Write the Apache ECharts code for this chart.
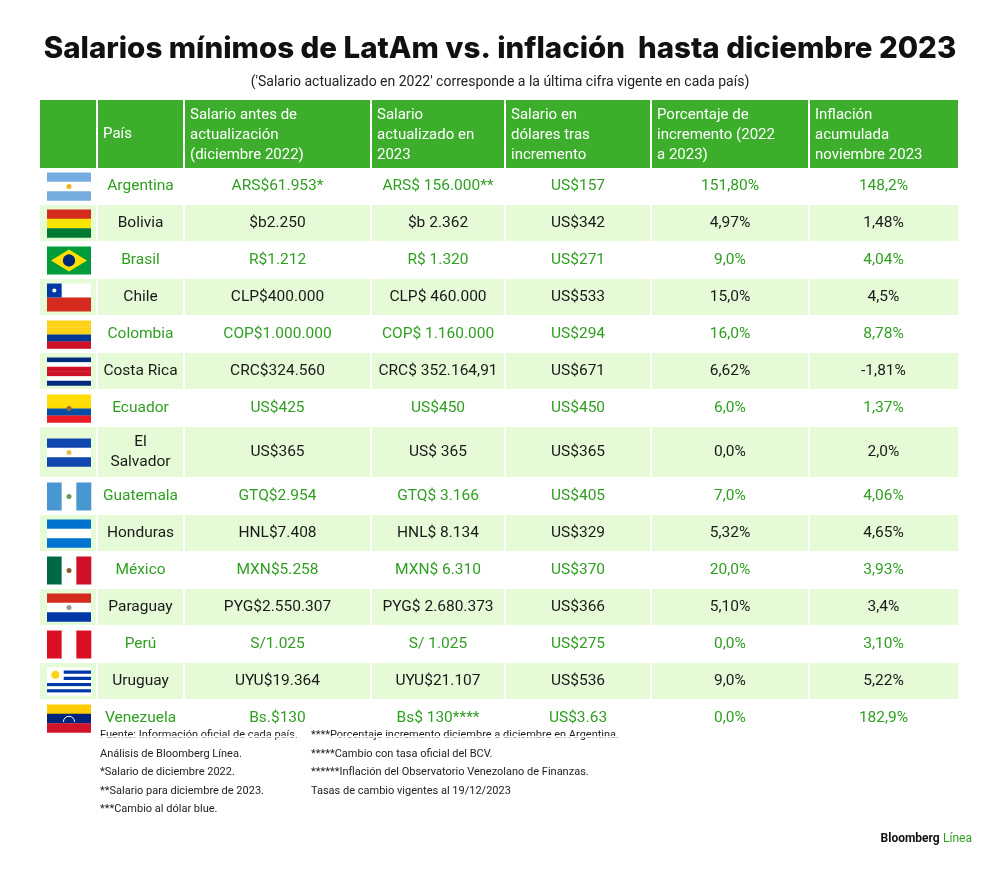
<!DOCTYPE html>
<html><head><meta charset="utf-8">
<script src="https://cdn.jsdelivr.net/npm/echarts@6/dist/echarts.min.js"></script>
<style>html,body{margin:0;padding:0;background:#fff}#c{width:1000px;height:869px}</style>
</head><body><div id="c"></div>
<script>
var headers = ['País','Salario antes de\nactualización\n(diciembre 2022)','Salario\nactualizado en\n2023','Salario en\ndólares tras\nincremento','Porcentaje de\nincremento (2022\na 2023)','Inflación\nacumulada\nnoviembre 2023'];
var countries = ['Argentina','Bolivia','Brasil','Chile','Colombia','Costa Rica','Ecuador','El\nSalvador','Guatemala','Honduras','México','Paraguay','Perú','Uruguay','Venezuela'];
var salaryBefore = ['ARS$61.953*','$b2.250','R$1.212','CLP$400.000','COP$1.000.000','CRC$324.560','US$425','US$365','GTQ$2.954','HNL$7.408','MXN$5.258','PYG$2.550.307','S/1.025','UYU$19.364','Bs.$130'];
var salaryAfter = ['ARS$ 156.000**','$b 2.362','R$ 1.320','CLP$ 460.000','COP$ 1.160.000','CRC$ 352.164,91','US$450','US$ 365','GTQ$ 3.166','HNL$ 8.134','MXN$ 6.310','PYG$ 2.680.373','S/ 1.025','UYU$21.107','Bs$ 130****'];
var salaryUSD = ['US$157','US$342','US$271','US$533','US$294','US$671','US$450','US$365','US$405','US$329','US$370','US$366','US$275','US$536','US$3.63'];
var pctIncrease = ['151,80%','4,97%','9,0%','15,0%','16,0%','6,62%','6,0%','0,0%','7,0%','5,32%','20,0%','5,10%','0,0%','9,0%','0,0%'];
var inflation = ['148,2%','1,48%','4,04%','4,5%','8,78%','-1,81%','1,37%','2,0%','4,06%','4,65%','3,93%','3,4%','3,10%','5,22%','182,9%'];
var footLeft = ['Fuente: Información oficial de cada país.','Análisis de Bloomberg Línea.','*Salario de diciembre 2022.','**Salario para diciembre de 2023.','***Cambio al dólar blue.'];
var footRight = ['****Porcentaje incremento diciembre a diciembre en Argentina.','*****Cambio con tasa oficial del BCV.','******Inflación del Observatorio Venezolano de Finanzas.','Tasas de cambio vigentes al 19/12/2023'];

// layout (pixel-space axes)
var colEdges = [40,97,184,371,505,651,809,958];
var headerTop = 100, headerBottom = 168;
var rowH = countries.map(function(c){return c.indexOf('\n')>=0?51:37;});
var rowTop = []; (function(){var y=headerBottom;rowH.forEach(function(h){rowTop.push(y);y+=h;});})();
var GREEN='#3cae2c', LIGHT='#e5fad6', GTEXT='#2f9f20';
var FONT='Roboto';

var flags = [
 {t:'h',c:['#74acdf','#ffffff','#74acdf'],sun:'#f6b40e'},
 {t:'h',c:['#d52b1e','#f9e300','#007934']},
 {t:'br'},
 {t:'cl'},
 {t:'h',c:['#fcd116','#fcd116','#003893','#ce1126']},
 {t:'h',c:['#002b7f','#ffffff','#ce1126','#ce1126','#ffffff','#002b7f']},
 {t:'h',c:['#ffdd00','#ffdd00','#034ea2','#ed1c24'],sun:'#8a6d3b'},
 {t:'h',c:['#0f47af','#ffffff','#0f47af'],sun:'#e0c050'},
 {t:'v',c:['#4997d0','#ffffff','#4997d0'],sun:'#6a9a50'},
 {t:'h',c:['#0073cf','#ffffff','#0073cf']},
 {t:'v',c:['#006847','#ffffff','#ce1126'],sun:'#8c5a2b'},
 {t:'h',c:['#d52b1e','#ffffff','#0038a8'],sun:'#999'},
 {t:'v',c:['#d91023','#ffffff','#d91023']},
 {t:'uy'},
 {t:'h',c:['#ffcc00','#00247d','#cf142b'],stars:true}
];

function flagShapes(api, f, cy){
  var p0 = api.coord([47, cy-14]), p1 = api.coord([91, cy+14]);
  var x=p0[0], y=p0[1], w=p1[0]-p0[0], h=p1[1]-p0[1];
  var out=[];
  function rect(a,b,c,d,col){out.push({type:'rect',shape:{x:a,y:b,width:c,height:d},style:{fill:col}});}
  if(f.t==='h'){var n=f.c.length;f.c.forEach(function(col,i){rect(x,y+h*i/n,w,h/n+0.3,col);});}
  else if(f.t==='v'){var n2=f.c.length;f.c.forEach(function(col,i){rect(x+w*i/n2,y,w/n2+0.3,h,col);});}
  else if(f.t==='br'){rect(x,y,w,h,'#009c3b');out.push({type:'polygon',shape:{points:[[x+4,y+h/2],[x+w/2,y+3],[x+w-4,y+h/2],[x+w/2,y+h-3]]},style:{fill:'#ffdf00'}});out.push({type:'circle',shape:{cx:x+w/2,cy:y+h/2,r:h*0.22},style:{fill:'#002776'}});}
  else if(f.t==='cl'){rect(x,y,w,h/2,'#ffffff');rect(x,y+h/2,w,h/2,'#d52b1e');rect(x,y,w/3,h/2,'#0039a6');out.push({type:'circle',shape:{cx:x+w/6,cy:y+h/4,r:2},style:{fill:'#fff'}});}
  else if(f.t==='uy'){for(var i=0;i<9;i++)rect(x,y+h*i/9,w,h/9+0.3,i%2?'#0038a8':'#ffffff');rect(x,y,w*0.38,h*5/9,'#ffffff');out.push({type:'circle',shape:{cx:x+w*0.19,cy:y+h*0.26,r:4},style:{fill:'#fcd116'}});}
  if(f.sun)out.push({type:'circle',shape:{cx:x+w/2,cy:y+h/2,r:2.5},style:{fill:f.sun}});
  if(f.stars)out.push({type:'arc',shape:{cx:x+w/2,cy:y+h*0.62,r:h*0.2,startAngle:Math.PI,endAngle:0},style:{stroke:'#fff',fill:null,lineWidth:1}});
  return out;
}

var rowsData = countries.map(function(c,i){return [i];});
var chart = echarts.init(document.getElementById('c'));
chart.setOption({
  animation:false,
  title:[{text:'Salarios mínimos de LatAm vs. inflación  hasta diciembre 2023',left:'center',top:29,textStyle:{fontFamily:'Inter',fontWeight:800,fontSize:29.5,color:'#111'}},
         {text:"('Salario actualizado en 2022' corresponde a la última cifra vigente en cada país)",left:'center',top:70,textStyle:{fontFamily:FONT,fontWeight:'normal',fontSize:14,color:'#222'}}],
  grid:{left:0,right:0,top:0,bottom:0},
  xAxis:{type:'value',min:0,max:1000,show:false},
  yAxis:{type:'value',min:0,max:869,inverse:true,show:false},
  series:[
   {type:'custom',data:[[0]],renderItem:function(params,api){
      var ch=[];var a=api.coord([colEdges[0],headerTop]),b=api.coord([colEdges[7],headerBottom]);
      ch.push({type:'rect',shape:{x:a[0],y:a[1],width:b[0]-a[0],height:b[1]-a[1]},style:{fill:GREEN}});
      for(var k=1;k<7;k++){var p=api.coord([colEdges[k],headerTop]);ch.push({type:'rect',shape:{x:p[0]-1,y:a[1],width:2,height:b[1]-a[1]},style:{fill:'#ffffff'}});}
      headers.forEach(function(t,k){var p=api.coord([colEdges[k+1]+6,headerTop+5]);
        var lines=t.split('\n').length;
        ch.push({type:'text',x:p[0],y:(lines===1?(a[1]+b[1])/2:p[1]),style:{text:t,fill:'#fff',font:'15px '+FONT,lineHeight:20,verticalAlign:lines===1?'middle':'top',align:'left'}});});
      return {type:'group',children:ch};
   }},
   {type:'custom',data:rowsData,renderItem:function(params,api){
      var i=api.value(0);var top=rowTop[i],h=rowH[i],cy=top+h/2;
      var odd=i%2===1;var ch=[];
      var a=api.coord([colEdges[0],top]),b=api.coord([colEdges[7],top+h]);
      if(odd){ch.push({type:'rect',shape:{x:a[0],y:a[1],width:b[0]-a[0],height:b[1]-a[1]},style:{fill:LIGHT}});
        for(var k=1;k<7;k++){var p=api.coord([colEdges[k],top]);ch.push({type:'rect',shape:{x:p[0]-1,y:a[1],width:2,height:b[1]-a[1]},style:{fill:'#ffffff'}});}}
      ch.push({type:'rect',shape:{x:a[0],y:b[1]-1,width:b[0]-a[0],height:1.5},style:{fill:'#ffffff'}});
      ch=ch.concat(flagShapes(api,flags[i],cy));
      var vals=[countries[i],salaryBefore[i],salaryAfter[i],salaryUSD[i],pctIncrease[i],inflation[i]];
      var col=odd?'#1a1a1a':GTEXT;
      vals.forEach(function(v,k){var xm=(colEdges[k+1]+colEdges[k+2])/2;var p=api.coord([xm,cy]);
        ch.push({type:'text',x:p[0],y:p[1],style:{text:v,fill:col,font:'15.5px '+FONT,align:'center',verticalAlign:'middle',lineHeight:20}});});
      return {type:'group',children:ch};
   }}
  ],
  graphic:[
   {type:'text',left:100,top:726,style:{text:footLeft.join('\n'),font:'11px '+FONT,fill:'#222',lineHeight:18.5}},
   {type:'text',left:311,top:726,style:{text:footRight.join('\n'),font:'11px '+FONT,fill:'#222',lineHeight:18.5}},
   {type:'text',right:28,top:833,style:{rich:{a:{fontFamily:FONT,fontWeight:'bold',fontSize:12,fill:'#111'},b:{fontFamily:FONT,fontSize:12,fill:GTEXT}},text:'{a|Bloomberg} {b|Línea}'}}
  ]
});
</script></body></html>
